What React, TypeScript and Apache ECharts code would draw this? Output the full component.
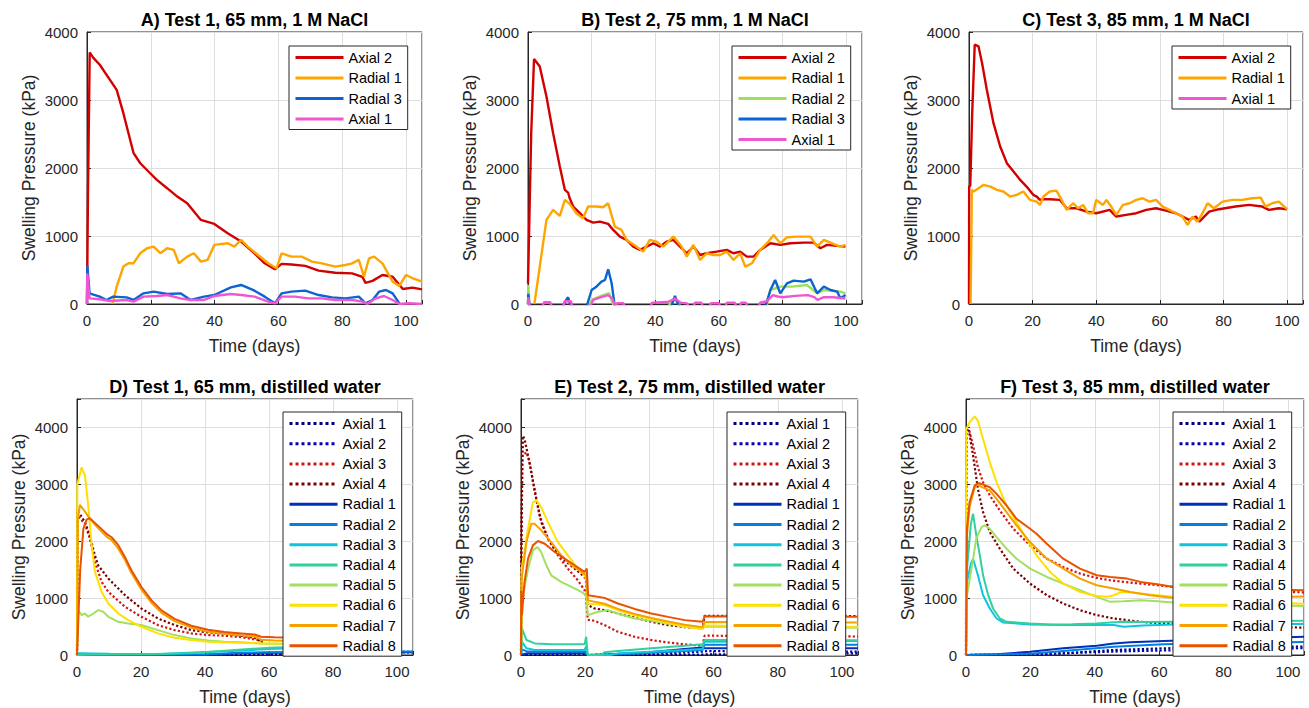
import React, { useEffect, useRef } from "react";
import * as echarts from "echarts";

type Pt = [number, number];

const FONT = '"Liberation Sans", Arial, Helvetica, sans-serif';

// ---------- tick values ----------
const xTicksMax = 105;
const xInterval = 20;
const yInterval = 1000;

// ---------- Panel A: Test 1, 65 mm, 1 M NaCl ----------
const aAxial2: Pt[] = [[0,0],[0.3,1600],[0.85,3700],[2,3620],[4,3518],[7.2,3297],[9.3,3150],[11.4,2806],[14.6,2218],[16.7,2070],[19.8,1923],[21.9,1825],[25.1,1703],[28.3,1580],[31.4,1482],[35.7,1236],[39.9,1178],[44.1,1040],[48.3,918],[52.5,746],[55.7,599],[58.9,510],[61,590],[64.1,580],[68.4,560],[72.6,490],[77.8,460],[83.1,450],[86.3,400],[87.3,310],[89.5,340],[92.6,427],[95.8,400],[99,220],[102,240],[105,215]];
const aRadial1: Pt[] = [[8,0],[9.3,255],[11.4,550],[13,600],[14.6,600],[16.7,746],[18.8,820],[20.9,844],[23,746],[25.1,820],[27.2,795],[28.8,600],[31.4,697],[33.5,746],[35.7,623],[37.8,648],[39.9,869],[44.1,893],[46.2,844],[48.3,942],[50.4,844],[53.6,721],[56.8,600],[59.4,525],[61,746],[64.1,697],[67.3,697],[70.5,623],[73.6,598],[77.8,550],[81,574],[83.1,598],[85.2,648],[86.8,402],[88.4,672],[90,697],[92.6,598],[95.8,329],[97.9,265],[100,427],[102.1,378],[105,329]];
const aRadial3: Pt[] = [[0,0],[0.1,570],[0.8,157],[4,108],[6.1,59],[8.2,108],[12.4,98],[14.6,59],[17.7,157],[20.9,182],[25.1,147],[29.3,157],[32.5,59],[36.7,108],[39.9,132],[45.1,245],[48.3,280],[52.5,196],[55.7,108],[58.9,10],[61,157],[64.1,182],[68.4,196],[72.6,132],[76.8,98],[81,83],[85.2,108],[87.3,10],[89.5,59],[91.6,182],[93.7,206],[95.8,157],[97.9,10]];
const aAxial1: Pt[] = [[0,0],[0.1,451],[0.8,83],[4,69],[7.2,44],[12.4,59],[14.6,34],[17.7,108],[21.9,118],[25.1,132],[29.3,83],[32.5,59],[36.7,59],[39.9,118],[45.1,147],[48.3,132],[52.5,108],[56.8,34],[58.9,10],[61,108],[65.2,108],[69.4,83],[73.6,83],[77.8,59],[83.1,59],[86.3,34],[87.9,0],[90.5,83],[93.1,118],[95.8,59],[97.9,0],[101,10],[105,0]];

// ---------- Panel B: Test 2, 75 mm, 1 M NaCl ----------
const bAxial2: Pt[] = [[0,300],[1,2500],[1.9,3602],[3.7,3494],[5.8,3052],[7.9,2512],[10,2022],[11.6,1678],[12.6,1639],[13.1,1555],[14.2,1433],[16.3,1335],[18.4,1237],[20.5,1197],[22.6,1212],[25.2,1178],[26.8,1089],[28.9,991],[31,942],[33.1,844],[35.2,795],[37.3,844],[39.4,893],[41.5,844],[43.6,918],[45.7,942],[47.8,844],[49.9,746],[52,844],[54.1,721],[56.2,746],[59.3,770],[62.5,795],[64.6,746],[66.7,770],[68.8,697],[70.9,697],[73,795],[76.2,893],[79.3,869],[82.5,893],[86.7,903],[89.8,903],[91.9,820],[94,869],[97.2,854],[99.8,844]];
const bRadial1: Pt[] = [[2,0],[3.7,550],[5.8,1237],[7.9,1384],[10,1295],[11.6,1531],[13.1,1472],[15.2,1335],[17.3,1261],[18.9,1433],[21.5,1433],[23.6,1423],[25.2,1482],[27.3,1138],[29.4,1089],[31,942],[34.1,844],[36.2,770],[38.3,942],[40.4,918],[42.5,844],[45.7,991],[48.3,844],[49.9,697],[52,869],[54.1,648],[56.2,746],[58.3,721],[60.4,721],[62.5,770],[64.6,648],[66.7,746],[68.3,550],[70.4,599],[73,795],[75.6,918],[77.2,1016],[79.3,893],[81.4,981],[84.6,991],[88.8,991],[90.9,844],[93,942],[95.6,893],[98.2,844],[99.8,869]];
const bRadial2: Pt[] = [[0,0],[0.1,280],[0.5,-40],[19,-40],[20,60],[23,120],[25.5,160],[27,-40],[44,-40],[46,80],[48,-40],[75,-40],[76.2,206],[79.3,255],[83,255],[87.7,280],[90.9,157],[93,206],[98.2,182],[99.8,157]];
const bRadial3: Pt[] = [[0,0],[0.1,150],[0.5,-40],[11,-40],[12,60],[12.6,98],[13.5,-40],[18.4,-40],[20,206],[21.5,255],[23.1,329],[24.2,353],[25.2,510],[26.3,304],[27.3,-40],[45,-40],[46.2,118],[47.5,-40],[74.6,-40],[76.2,206],[77.7,353],[79.3,157],[81.4,304],[83.5,343],[86.7,329],[88.8,363],[90.9,157],[93,255],[95.1,206],[97.2,182],[98.2,83],[99.8,132]];
const bAxial1: Pt[] = [[0,0],[0.1,100],[0.5,-40],[4.5,-40],[5,25],[7,25],[7.5,-40],[11,-40],[11.5,40],[13.5,40],[14,-40],[19.5,-40],[20.5,60],[23,100],[25.2,130],[26.5,80],[27.5,-40],[28,10],[30,10],[30.5,-40],[38.5,-40],[39,20],[44,30],[46.2,80],[48,20],[50,10],[50.5,-40],[52,-40],[52.5,20],[54.5,20],[55,-40],[57,-40],[57.5,10],[60,10],[60.5,-40],[62,-40],[62.5,20],[65,20],[65.5,-40],[66.5,-40],[67,20],[68.5,20],[69,-40],[72.5,-40],[73,20],[75,40],[77,130],[78.5,110],[80,100],[84,120],[88,130],[90,100],[91,60],[93,100],[96,100],[99.8,80]];

// ---------- Panel C: Test 3, 85 mm, 1 M NaCl ----------
const cAxial2: Pt[] = [[0,0],[0.05,1727],[0.4,1740],[1,2800],[1.8,3813],[3,3788],[4.1,3543],[5.6,3150],[7.7,2659],[9.8,2316],[11.9,2071],[14,1948],[16.1,1825],[18.1,1727],[20.2,1605],[21.3,1580],[22.3,1531],[23.4,1541],[25.4,1541],[28.6,1531],[30.7,1408],[33.8,1408],[37,1359],[40,1335],[44.2,1384],[46.3,1286],[49.4,1310],[52.6,1335],[55.7,1384],[58.8,1408],[61.9,1374],[65.1,1335],[68.2,1261],[69.2,1237],[71.3,1286],[72.4,1212],[75.5,1359],[78.6,1394],[83.8,1433],[88,1457],[92.2,1433],[94.3,1384],[97.4,1408],[100,1394]];
const cRadial1: Pt[] = [[0.5,0],[0.9,1678],[1.5,1654],[3,1703],[4.6,1752],[6.7,1727],[8.8,1678],[10.8,1654],[12.9,1580],[15,1605],[17.1,1654],[19.2,1531],[21.3,1506],[22.3,1457],[23.4,1580],[25.4,1654],[27.5,1668],[29.1,1531],[30.7,1384],[32.7,1482],[34.3,1408],[35.9,1457],[37.4,1335],[39,1335],[40,1531],[42.1,1457],[43.2,1531],[44.7,1433],[46.3,1310],[48.4,1457],[50.5,1482],[52.6,1531],[54.6,1555],[56.7,1506],[58.8,1531],[60.9,1433],[63,1384],[65.1,1335],[67.1,1286],[68.7,1163],[70.3,1286],[71.8,1212],[73.4,1335],[75,1482],[77,1408],[79.7,1506],[82.8,1531],[85.9,1531],[89,1555],[91.7,1565],[93.2,1433],[95.3,1482],[97.4,1506],[100,1394]];
const cAxial1: Pt[] = [[0,-40],[0.5,-40]];

// ---------- Panel D: Test 1, 65 mm, distilled water ----------
const dAxial1: Pt[] = [[0,0],[40,0],[60,15],[80,30],[100,45],[105,45]];
const dAxial2: Pt[] = [[0,0],[40,5],[60,20],[80,35],[100,55],[105,55]];
const dAxial3: Pt[] = [[0,0],[0.2,2450],[2.5,2300],[4,2050],[5.6,1635],[7.7,1285],[9.8,1109],[15,847],[20.1,672],[25.3,526],[30.5,438],[35.7,380],[40.9,350],[46.1,339],[51.3,315],[56.5,263],[58,240]];
const dAxial4: Pt[] = [[0,0],[0.2,2540],[2.5,2336],[4,2102],[5.6,1750],[6.6,1577],[9.8,1343],[15,1051],[20.1,818],[25.3,642],[30.5,526],[35.7,438],[40.9,397],[46.1,380],[51.3,339],[55.5,304],[57.5,234],[58,216]];
const dRadial1: Pt[] = [[0,0],[30,0],[45,10],[50,30],[60,40],[80,45],[100,50],[105,50]];
const dRadial2: Pt[] = [[0,0],[20,5],[40,10],[50,40],[60,50],[80,55],[100,60],[105,60]];
const dRadial3: Pt[] = [[0,0],[0.3,30],[10,20],[25,15],[35,40],[45,60],[55,90],[62,110],[75,120],[100,125]];
const dRadial4: Pt[] = [[0,0],[5,10],[20,15],[35,30],[45,70],[55,110],[62,130],[75,140],[90,145],[100,150]];
const dRadial5: Pt[] = [[0,0],[0.3,788],[1.45,700],[2.5,730],[3.5,672],[5.1,730],[6.6,788],[8.2,759],[9.8,672],[12.9,584],[16,555],[20.1,526],[25.3,438],[30.5,350],[35.7,292],[40.9,257],[46.1,234],[51.3,222],[57.5,204],[65,195],[80,185],[100,180]];
const dRadial6: Pt[] = [[0,0],[0.1,3000],[1.45,3299],[2.5,3153],[3.5,2628],[4.6,1927],[5.6,1460],[7.7,1109],[9.8,905],[12.9,730],[16,613],[20.1,496],[25.3,380],[30.5,304],[35.7,263],[40.9,234],[46.1,222],[51.3,216],[57.5,204],[63.8,200],[75,195],[90,190],[100,190]];
const dRadial7: Pt[] = [[0,0],[0.3,2400],[0.9,2640],[2.5,2520],[4,2394],[6.6,2230],[9.2,2080],[10.8,2020],[12.9,1870],[15,1670],[17,1440],[20.1,1150],[23.3,915],[26.4,740],[30.5,595],[35.7,480],[40.9,410],[46.1,375],[51.3,345],[55.5,325],[57.5,270],[61.7,255],[70,240],[85,225],[100,215]];
const dRadial8: Pt[] = [[0,0],[1,1500],[2,2219],[3,2380],[4,2406],[6.6,2270],[9.2,2130],[10.8,2070],[12.9,1930],[15,1720],[17,1490],[20.1,1200],[23.3,960],[26.4,785],[30.5,635],[35.7,515],[40.9,445],[46.1,405],[51.3,380],[55.5,360],[57.5,320],[61.7,310],[70,300],[85,290],[100,280]];

// ---------- Panel E: Test 2, 75 mm, distilled water ----------
const eAxial1: Pt[] = [[0,0],[20,20],[21,0],[60,10],[105,30]];
const eAxial2: Pt[] = [[0,0],[20,40],[21,0],[40,20],[57,60],[58,70],[105,60]];
const eAxial3: Pt[] = [[0,0],[0.3,3504],[1.7,3562],[2.7,3387],[4.3,2862],[5.8,2453],[8.4,2044],[11.5,1752],[14.6,1518],[17.7,1314],[19.8,1139],[20.3,1000],[20.8,620],[23,600],[26,526],[30.2,409],[35.4,320],[40.6,263],[45.8,220],[51,187],[56.6,164],[57.2,340],[70,335],[90,330],[105,325]];
const eAxial4: Pt[] = [[0,0],[0.1,2015],[0.6,3854],[1.1,3796],[2.2,3504],[3.2,3212],[4.8,2745],[6.3,2336],[8.4,2044],[10.5,1869],[13.6,1664],[16.7,1518],[19.8,1372],[20.3,1285],[20.9,876],[22.9,818],[26,788],[30.2,730],[35.4,654],[40.6,584],[45.8,526],[51,490],[56.6,467],[57.2,690],[61.3,690],[80,688],[105,685]];
const eRadial1: Pt[] = [[0,0],[2,30],[19.8,30],[20.8,0],[30,10],[40,50],[50,100],[56.6,130],[57.2,120],[80,120],[105,120]];
const eRadial2: Pt[] = [[0,0],[0.3,100],[2,60],[19.8,55],[20.8,0],[35,20],[56.6,90],[57.2,180],[105,180]];
const eRadial3: Pt[] = [[0,0],[0.3,234],[1.7,117],[4.3,88],[19.8,88],[20.3,150],[20.8,0],[28,0],[30.2,29],[40.6,58],[51,88],[56.6,105],[57.2,234],[80,240],[105,245]];
const eRadial4: Pt[] = [[0,0],[0.3,467],[1.7,263],[4.3,204],[9.4,187],[19.8,187],[20.3,321],[20.8,0],[25,0],[26,47],[30.2,70],[40.6,117],[51,164],[56.6,187],[57.2,263],[80,262],[105,260]];
const eRadial5: Pt[] = [[0,0],[0.3,934],[2.2,1518],[3.7,1839],[5.1,1898],[6.3,1810],[7.9,1577],[9.4,1401],[12.5,1285],[15.7,1197],[18.8,1109],[20.3,1051],[20.8,700],[24,759],[27,788],[30.2,730],[35.4,642],[40.6,600],[45.8,550],[51,500],[56.6,460],[57.2,500],[80,490],[105,480]];
const eRadial6: Pt[] = [[0,0],[0.2,1518],[2.2,2219],[3.7,2686],[4.8,2715],[6.3,2599],[8.4,2336],[11.5,1985],[14.6,1752],[17.7,1518],[19.8,1401],[20.4,1300],[20.8,905],[26,876],[30.2,788],[35.4,700],[40.6,631],[45.8,560],[51,496],[56.6,455],[57.2,520],[70,510],[90,500],[105,495]];
const eRadial7: Pt[] = [[0,0],[0.2,1343],[1.7,1985],[3.2,2307],[4.2,2307],[6.3,2190],[9.4,1985],[12.5,1752],[15.7,1577],[18.8,1460],[20.3,1401],[20.8,960],[26,900],[30.2,810],[35.4,720],[40.6,650],[45.8,590],[51,530],[56.6,490],[57.2,580],[80,575],[105,570]];
const eRadial8: Pt[] = [[0,0],[0.1,1139],[0.3,700],[1.1,1285],[2.2,1693],[3.7,1927],[5.3,2003],[7.4,1956],[10.5,1810],[13.6,1693],[16.7,1577],[19.8,1460],[20.5,1518],[20.9,1051],[26,1004],[30.2,905],[35.4,810],[40.6,730],[45.8,670],[51,613],[56.6,584],[57.2,680],[80,676],[105,672]];

// ---------- Panel F: Test 3, 85 mm, distilled water ----------
const fAxial1: Pt[] = [[0,0],[20,5],[30.2,29],[45.9,88],[61.4,117],[80,140],[105,150]];
const fAxial2: Pt[] = [[0,0],[20,10],[30,30],[45.9,60],[61.4,80],[80,100],[105,120]];
const fAxial3: Pt[] = [[0,0],[0.1,3942],[0.9,3971],[2.2,3679],[3.7,3299],[5.3,3036],[7.4,2803],[10.5,2540],[14.7,2219],[19.9,1927],[25.1,1693],[30.2,1547],[35.4,1431],[40.6,1355],[44.8,1314],[49,1285],[54.2,1255],[59.4,1226],[64.5,1197],[80,1150],[105,1100]];
const fAxial4: Pt[] = [[0,0],[0.1,3900],[0.9,3950],[2.2,3504],[3.7,2920],[5.3,2511],[7.4,2161],[10.5,1869],[14.7,1518],[19.9,1255],[25.1,1051],[30.2,905],[35.4,788],[40.6,701],[45.9,642],[50,613],[56.2,572],[64.5,555],[80,520],[105,480]];
const fRadial1: Pt[] = [[0,0],[9.5,12],[19.9,58],[30.2,117],[40.6,164],[45.9,204],[51,222],[61.4,245],[80,280],[105,320]];
const fRadial2: Pt[] = [[0,0],[20,20],[30.2,70],[45.9,146],[61.4,187],[80,210],[105,230]];
const fRadial3: Pt[] = [[0,0],[0.3,1285],[1.5,1600],[2.2,1693],[3.7,1401],[5.3,1051],[7.4,818],[9.5,642],[11.5,572],[19.9,537],[30.2,526],[45.9,526],[49,496],[55,520],[64.5,537],[80,540],[105,545]];
const fRadial4: Pt[] = [[0,0],[0.3,1500],[1.5,2300],[2.2,2482],[3.2,2102],[4.3,1752],[5.3,1401],[6.9,1051],[8.4,818],[10.5,642],[12.6,584],[19.9,555],[26.1,537],[33,540],[40.6,555],[44.8,572],[49,584],[55,580],[64.5,584],[80,590],[105,600]];
const fRadial5: Pt[] = [[0,0],[0.3,1051],[1.7,1518],[3.2,2044],[4.8,2248],[5.8,2277],[7.4,2219],[9.5,2073],[12.6,1869],[15.7,1693],[19.9,1518],[25.1,1372],[30.2,1255],[35.4,1139],[40.6,1022],[44.8,934],[49,946],[54.2,963],[59.4,946],[64.5,923],[80,890],[105,860]];
const fRadial6: Pt[] = [[0,0],[0.05,3971],[1.1,4088],[2.7,4193],[3.7,4117],[5.3,3796],[7.4,3387],[9.5,3036],[12.6,2628],[15.7,2336],[18.8,2044],[21.9,1752],[26.1,1460],[30.2,1255],[35.4,1109],[40.6,1036],[43.8,1022],[45.9,1051],[47.9,1098],[50,1109],[54.2,1080],[59.4,1051],[64.5,1022],[80,950],[105,900]];
const fRadial7: Pt[] = [[0,0],[0.3,2100],[1.1,2600],[2.7,2950],[3.5,3000],[5,2950],[7.4,2891],[9.5,2745],[12.6,2511],[15.7,2277],[19.9,1985],[25.1,1693],[30.2,1518],[35.4,1343],[40.6,1226],[45.9,1168],[51,1109],[57.3,1051],[64.5,1004],[80,1010],[105,1030]];
const fRadial8: Pt[] = [[0,0],[0.3,2219],[1.1,2686],[2.7,2978],[3.7,3024],[4.8,3007],[7.4,2949],[9.5,2832],[12.6,2628],[15.7,2394],[19.9,2219],[21.9,2131],[25.1,1956],[30.2,1693],[35.4,1518],[40.6,1401],[44.8,1372],[50,1343],[54.2,1285],[59.4,1244],[64.5,1197],[80,1160],[105,1140]];

// ---------- colours ----------
const C_AX2 = "#d20000";
const C_RAD1 = "#ffa500";
const C_RAD2 = "#9ee05a";
const C_RAD3 = "#0a64d2";
const C_AX1 = "#f055d2";

const J = {
  ax1: "#00007a",
  ax2: "#0000b4",
  ax3: "#d21414",
  ax4: "#7a0000",
  r1: "#0030b8",
  r2: "#0080e0",
  r3: "#10c4e0",
  r4: "#30d0a0",
  r5: "#a2e060",
  r6: "#ffe000",
  r7: "#f5a200",
  r8: "#e85200",
};

interface SeriesDef { label: string; color: string; dotted?: boolean; data: Pt[] }
interface PanelDef {
  id: string; title: string; grid: [number, number, number, number];
  ymax: number; legendPos: [number, number]; itemGap: number; lw: number;
  series: SeriesDef[];
}

const bottomSeries = (a1: Pt[], a2: Pt[], a3: Pt[], a4: Pt[], r: Pt[][]): SeriesDef[] => [
  { label: "Axial 1", color: J.ax1, dotted: true, data: a1 },
  { label: "Axial 2", color: J.ax2, dotted: true, data: a2 },
  { label: "Axial 3", color: J.ax3, dotted: true, data: a3 },
  { label: "Axial 4", color: J.ax4, dotted: true, data: a4 },
  { label: "Radial 1", color: J.r1, data: r[0] },
  { label: "Radial 2", color: J.r2, data: r[1] },
  { label: "Radial 3", color: J.r3, data: r[2] },
  { label: "Radial 4", color: J.r4, data: r[3] },
  { label: "Radial 5", color: J.r5, data: r[4] },
  { label: "Radial 6", color: J.r6, data: r[5] },
  { label: "Radial 7", color: J.r7, data: r[6] },
  { label: "Radial 8", color: J.r8, data: r[7] },
];

const panels: PanelDef[] = [
  {
    id: "A", title: "A) Test 1, 65 mm, 1 M NaCl", grid: [87, 32, 335, 272], ymax: 4000,
    legendPos: [289, 46], itemGap: 5.5, lw: 2.4,
    series: [
      { label: "Axial 2", color: C_AX2, data: aAxial2 },
      { label: "Radial 1", color: C_RAD1, data: aRadial1 },
      { label: "Radial 3", color: C_RAD3, data: aRadial3 },
      { label: "Axial 1", color: C_AX1, data: aAxial1 },
    ],
  },
  {
    id: "B", title: "B) Test 2, 75 mm, 1 M NaCl", grid: [528, 32, 334, 272], ymax: 4000,
    legendPos: [732, 46], itemGap: 5.5, lw: 2.4,
    series: [
      { label: "Axial 2", color: C_AX2, data: bAxial2 },
      { label: "Radial 1", color: C_RAD1, data: bRadial1 },
      { label: "Radial 2", color: C_RAD2, data: bRadial2 },
      { label: "Radial 3", color: C_RAD3, data: bRadial3 },
      { label: "Axial 1", color: C_AX1, data: bAxial1 },
    ],
  },
  {
    id: "C", title: "C) Test 3, 85 mm, 1 M NaCl", grid: [969, 32, 334, 272], ymax: 4000,
    legendPos: [1172, 46], itemGap: 5.5, lw: 2.4,
    series: [
      { label: "Axial 2", color: C_AX2, data: cAxial2 },
      { label: "Radial 1", color: C_RAD1, data: cRadial1 },
      { label: "Axial 1", color: C_AX1, data: cAxial1 },
    ],
  },
  {
    id: "D", title: "D) Test 1, 65 mm, distilled water", grid: [77, 399, 336, 256], ymax: 4500,
    legendPos: [283, 412], itemGap: 5.2, lw: 2,
    series: bottomSeries(dAxial1, dAxial2, dAxial3, dAxial4,
      [dRadial1, dRadial2, dRadial3, dRadial4, dRadial5, dRadial6, dRadial7, dRadial8]),
  },
  {
    id: "E", title: "E) Test 2, 75 mm, distilled water", grid: [521, 399, 337, 256], ymax: 4500,
    legendPos: [727, 412], itemGap: 5.2, lw: 2,
    series: bottomSeries(eAxial1, eAxial2, eAxial3, eAxial4,
      [eRadial1, eRadial2, eRadial3, eRadial4, eRadial5, eRadial6, eRadial7, eRadial8]),
  },
  {
    id: "F", title: "F) Test 3, 85 mm, distilled water", grid: [966, 399, 338, 256], ymax: 4500,
    legendPos: [1173, 412], itemGap: 5.2, lw: 2,
    series: bottomSeries(fAxial1, fAxial2, fAxial3, fAxial4,
      [fRadial1, fRadial2, fRadial3, fRadial4, fRadial5, fRadial6, fRadial7, fRadial8]),
  },
];

const AXIS_COLOR = "#262626";
const GRID_COLOR = "#dedede";

function buildOption() {
  const grid: any[] = [];
  const xAxis: any[] = [];
  const yAxis: any[] = [];
  const series: any[] = [];
  const legend: any[] = [];
  const graphic: any[] = [];

  panels.forEach((p, i) => {
    const [left, top, width, height] = p.grid;
    grid.push({
      left, top, width, height, show: true, borderColor: AXIS_COLOR, borderWidth: 1,
      backgroundColor: "#fff", containLabel: false, outerBoundsMode: "none",
    });
    xAxis.push({
      type: "value", gridIndex: i, min: 0, max: xTicksMax, interval: xInterval,
      axisLine: { show: true, onZero: false, lineStyle: { color: AXIS_COLOR, width: 1 } },
      axisTick: { show: true, inside: true, length: 4, lineStyle: { color: AXIS_COLOR } },
      axisLabel: {
        formatter: (v: number) => (v % xInterval === 0 ? String(v) : ""),
        fontSize: 15, color: AXIS_COLOR, fontFamily: FONT, margin: 9,
        showMaxLabel: true, showMinLabel: true, hideOverlap: false,
      },
      splitLine: { show: true, lineStyle: { color: GRID_COLOR, width: 1 } },
      name: "Time (days)", nameLocation: "middle", nameGap: 33,
      nameTextStyle: { fontSize: 17.5, color: AXIS_COLOR, fontFamily: FONT },
    });
    yAxis.push({
      type: "value", gridIndex: i, min: 0, max: p.ymax, interval: yInterval,
      axisLine: { show: true, lineStyle: { color: AXIS_COLOR, width: 1 } },
      axisTick: { show: true, inside: true, length: 4, lineStyle: { color: AXIS_COLOR } },
      axisLabel: {
        formatter: (v: number) => (v % yInterval === 0 ? String(v) : ""),
        fontSize: 15, color: AXIS_COLOR, fontFamily: FONT, margin: 9,
        showMaxLabel: true, showMinLabel: true, hideOverlap: false,
      },
      splitLine: { show: true, lineStyle: { color: GRID_COLOR, width: 1 } },
      name: "Swelling Pressure (kPa)", nameLocation: "middle", nameGap: 49,
      nameTextStyle: { fontSize: 17.5, color: AXIS_COLOR, fontFamily: FONT },
    });

    const names: string[] = [];
    p.series.forEach((s) => {
      const name = `${p.id}|${s.label}`;
      names.push(name);
      series.push({
        type: "line", name, xAxisIndex: i, yAxisIndex: i, data: s.data,
        symbol: "none", showSymbol: false, clip: true, color: s.color,
        lineStyle: { color: s.color, width: s.dotted ? 2.2 : p.lw, type: s.dotted ? "dotted" : "solid" },
        itemStyle: { color: s.color }, emphasis: { disabled: true },
      });
    });

    legend.push({
      orient: "vertical", left: p.legendPos[0], top: p.legendPos[1], data: names,
      formatter: (n: string) => n.split("|")[1],
      itemWidth: 48, itemHeight: 14, itemGap: p.itemGap,
      padding: [4, 6, 3, 5],
      borderColor: AXIS_COLOR, borderWidth: 1, borderRadius: 0, backgroundColor: "#fff",
      selectedMode: false,
      lineStyle: { width: 3 },
      itemStyle: { color: "rgba(0,0,0,0)", borderWidth: 0, opacity: 0 },
      textStyle: { fontSize: 14.5, color: "#000", fontFamily: FONT },
    });

    graphic.push({
      type: "text", x: left + width / 2, y: top - 12,
      style: {
        text: p.title, font: `bold 18px ${FONT}`, fill: "#000",
        textAlign: "center", textVerticalAlign: "middle", align: "center", verticalAlign: "middle",
      },
    });
  });

  return {
    animation: false,
    backgroundColor: "#ffffff",
    grid, xAxis, yAxis, series, legend, graphic,
  };
}

export default function App() {
  const ref = useRef<HTMLDivElement | null>(null);
  useEffect(() => {
    if (!ref.current) return;
    const chart = echarts.init(ref.current, undefined, { renderer: "svg" });
    chart.setOption(buildOption() as any);
    return () => chart.dispose();
  }, []);
  return (
    <div
      ref={ref}
      style={{ position: "absolute", left: 0, top: 0, width: 1309, height: 708, background: "#fff" }}
    />
  );
}
